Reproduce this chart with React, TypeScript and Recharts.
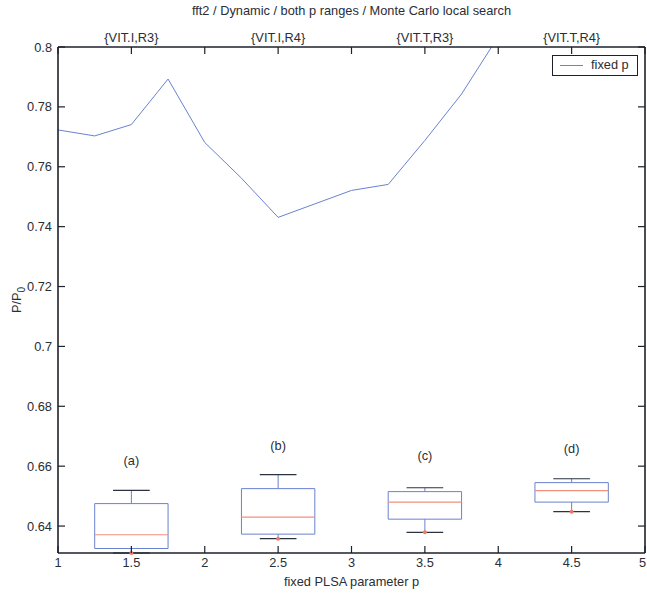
import React from 'react';
import {
  ComposedChart,
  Line,
  XAxis,
  YAxis,
  ReferenceArea,
  ReferenceLine,
  ReferenceDot,
  Legend,
} from 'recharts';

// fixed p curve
const pValues = [1, 1.25, 1.5, 1.75, 2, 2.25, 2.5, 2.75, 3, 3.25, 3.5, 3.75, 4];
const fixedP = [0.7723, 0.7703, 0.7741, 0.7893, 0.7681, 0.7562, 0.7431, 0.7476, 0.7521, 0.7541, 0.7688, 0.7843, 0.8035];

// boxplots (a)-(d)
const boxCenters = [1.5, 2.5, 3.5, 4.5];
const boxNames = ['(a)', '(b)', '(c)', '(d)'];
const whiskerLow = [0.631, 0.6358, 0.6379, 0.6448];
const q1 = [0.6325, 0.6373, 0.6423, 0.648];
const median = [0.6371, 0.643, 0.648, 0.6518];
const q3 = [0.6475, 0.6525, 0.6515, 0.6545];
const whiskerHigh = [0.6519, 0.6572, 0.6528, 0.6558];
const nameY = [0.662, 0.667, 0.6637, 0.6659];

const xTicks = [1, 1.5, 2, 2.5, 3, 3.5, 4, 4.5, 5];
const yTicks = [0.64, 0.66, 0.68, 0.7, 0.72, 0.74, 0.76, 0.78, 0.8];
const topLabels: Record<string, string> = {
  '1.5': '{VIT.I,R3}',
  '2.5': '{VIT.I,R4}',
  '3.5': '{VIT.T,R3}',
  '4.5': '{VIT.T,R4}',
};

const title = 'fft2 / Dynamic / both p ranges / Monte Carlo local search';

const data = pValues.map((p, i) => ({ p, fixed: fixedP[i] }));

const FONT = '"Liberation Sans", Arial, sans-serif';
const FS = 12.8;
const AXIS = '#1d2129';
const TEXT = '#2a2e35';
const BLUE = '#6a82cf';
const RED = '#f3907c';
const TICK_LEN = 7;
const BOX_HALF = 0.25;
const CAP_HALF = 0.125;

const BottomTick = ({ x, y, payload, index }: any) => {
  const last = index === xTicks.length - 1;
  return (
    <g>
      <line x1={x} x2={x} y1={y} y2={y - TICK_LEN} stroke={AXIS} strokeWidth={1.2} />
      <text
        x={last ? x + 1 : x}
        y={y + 14}
        textAnchor={last ? 'end' : 'middle'}
        fontSize={FS}
        fontFamily={FONT}
        fill={TEXT}
      >
        {payload.value}
      </text>
    </g>
  );
};

const TopTick = ({ x, y, payload }: any) => {
  const lbl = topLabels[String(payload.value)];
  return (
    <g>
      <line x1={x} x2={x} y1={y} y2={y + TICK_LEN} stroke={AXIS} strokeWidth={1.2} />
      {lbl && (
        <text x={x} y={y - 5} textAnchor="middle" fontSize={FS} fontFamily={FONT} fill={TEXT}>
          {lbl}
        </text>
      )}
    </g>
  );
};

const LeftTick = ({ x, y, payload }: any) => (
  <g>
    <line x1={x} x2={x + TICK_LEN} y1={y} y2={y} stroke={AXIS} strokeWidth={1.2} />
    <text x={x - 6} y={y + 4.5} textAnchor="end" fontSize={FS} fontFamily={FONT} fill={TEXT}>
      {String(payload.value)}
    </text>
  </g>
);

const RightTick = ({ x, y }: any) => (
  <line x1={x} x2={x - TICK_LEN} y1={y} y2={y} stroke={AXIS} strokeWidth={1.2} />
);

const YLabel = ({ viewBox }: any) => {
  const cx = viewBox.x + 21;
  const cy = viewBox.y + viewBox.height / 2;
  return (
    <text
      x={cx}
      y={cy}
      transform={`rotate(-90, ${cx}, ${cy})`}
      textAnchor="middle"
      fontSize={FS}
      fontFamily={FONT}
      fill={TEXT}
    >
      <tspan>P/P</tspan>
      <tspan dy={4} fontSize={10}>0</tspan>
    </text>
  );
};

const LegendBox = () => (
  <div
    style={{
      boxSizing: 'border-box',
      width: '100%',
      height: '100%',
      border: `1px solid ${AXIS}`,
      background: '#fff',
      position: 'relative',
      fontFamily: FONT,
      fontSize: FS,
      color: TEXT,
    }}
  >
    <div style={{ position: 'absolute', left: 7, top: 9, width: 23, borderTop: `1px solid ${BLUE}` }} />
    <span style={{ position: 'absolute', left: 38, top: 1, lineHeight: '16px' }}>fixed p</span>
  </div>
);

export default function App() {
  return (
    <div style={{ position: 'absolute', left: 0, top: 0, width: 647, height: 596, background: '#fff' }}>
      <ComposedChart width={647} height={596} data={data} margin={{ top: 0, right: 0, bottom: 0, left: 0 }}>
        <XAxis
          dataKey="p"
          type="number"
          domain={[1, 5]}
          ticks={xTicks}
          interval={0}
          allowDataOverflow
          height={43}
          tickSize={0}
          tickMargin={0}
          tick={<BottomTick />}
          axisLine={{ stroke: AXIS, strokeWidth: 1.6 }}
          label={{ value: 'fixed PLSA parameter p', position: 'insideBottom', offset: 10, fontSize: FS, fontFamily: FONT, fill: TEXT }}
        />
        <XAxis
          xAxisId="top"
          orientation="top"
          dataKey="p"
          type="number"
          domain={[1, 5]}
          ticks={xTicks}
          interval={0}
          allowDataOverflow
          height={47}
          tickSize={0}
          tickMargin={0}
          tick={<TopTick />}
          axisLine={{ stroke: AXIS, strokeWidth: 1.6 }}
          label={{ value: title, position: 'insideTop', offset: 6, fontSize: FS, fontFamily: FONT, fill: TEXT }}
        />
        <YAxis
          type="number"
          domain={[0.631, 0.8]}
          ticks={yTicks}
          interval={0}
          allowDataOverflow
          width={58}
          tickSize={0}
          tickMargin={0}
          tick={<LeftTick />}
          axisLine={{ stroke: AXIS, strokeWidth: 1.6 }}
          label={{ content: <YLabel /> }}
        />
        <YAxis
          yAxisId="right"
          orientation="right"
          type="number"
          domain={[0.631, 0.8]}
          ticks={yTicks}
          interval={0}
          allowDataOverflow
          width={2}
          tickSize={0}
          tickMargin={0}
          tick={<RightTick />}
          axisLine={{ stroke: AXIS, strokeWidth: 1.6 }}
        />

        {boxCenters.map((c, i) => (
          <ReferenceArea
            key={`box${i}`}
            x1={c - BOX_HALF}
            x2={c + BOX_HALF}
            y1={q1[i]}
            y2={q3[i]}
            fill="none"
            fillOpacity={0}
            stroke={BLUE}
            strokeWidth={1}
            ifOverflow="visible"
          />
        ))}
        {boxCenters.map((c, i) => (
          <ReferenceLine
            key={`med${i}`}
            segment={[{ x: c - BOX_HALF, y: median[i] }, { x: c + BOX_HALF, y: median[i] }]}
            stroke={RED}
            strokeWidth={1.2}
            ifOverflow="visible"
          />
        ))}
        {boxCenters.map((c, i) => (
          <ReferenceLine
            key={`wu${i}`}
            segment={[{ x: c, y: q3[i] }, { x: c, y: whiskerHigh[i] }]}
            stroke={BLUE}
            ifOverflow="visible"
          />
        ))}
        {boxCenters.map((c, i) => (
          <ReferenceLine
            key={`wl${i}`}
            segment={[{ x: c, y: q1[i] }, { x: c, y: whiskerLow[i] }]}
            stroke={BLUE}
            ifOverflow="visible"
          />
        ))}
        {boxCenters.map((c, i) => (
          <ReferenceLine
            key={`cu${i}`}
            segment={[{ x: c - CAP_HALF, y: whiskerHigh[i] }, { x: c + CAP_HALF, y: whiskerHigh[i] }]}
            stroke="#2b3340"
            strokeWidth={1.2}
            ifOverflow="visible"
          />
        ))}
        {boxCenters.map((c, i) => (
          <ReferenceLine
            key={`cl${i}`}
            segment={[{ x: c - CAP_HALF, y: whiskerLow[i] }, { x: c + CAP_HALF, y: whiskerLow[i] }]}
            stroke="#2b3340"
            strokeWidth={1.2}
            ifOverflow="visible"
          />
        ))}
        {boxCenters.map((c, i) => (
          <ReferenceDot
            key={`od${i}`}
            x={c}
            y={whiskerLow[i]}
            r={2}
            fill="#ee7a64"
            stroke="none"
            ifOverflow="visible"
          />
        ))}
        {boxCenters.map((c, i) => (
          <ReferenceDot
            key={`nm${i}`}
            x={c}
            y={nameY[i]}
            r={0}
            fill="none"
            stroke="none"
            ifOverflow="visible"
            label={{ value: boxNames[i], position: 'center', fontSize: FS, fontFamily: FONT, fill: TEXT }}
          />
        ))}

        <Line
          type="linear"
          dataKey="fixed"
          name="fixed p"
          stroke={BLUE}
          strokeWidth={1}
          dot={false}
          isAnimationActive={false}
        />
        <Legend
          layout="horizontal"
          verticalAlign="middle"
          align="center"
          wrapperStyle={{ position: 'absolute', left: 552, top: 55, width: 86, height: 21 }}
          content={<LegendBox />}
        />
      </ComposedChart>
    </div>
  );
}
